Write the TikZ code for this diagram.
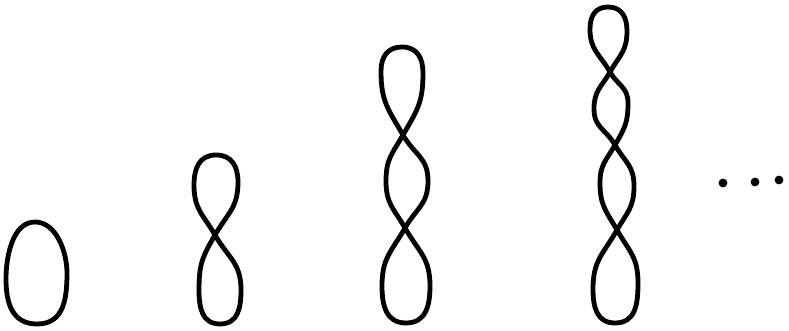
\documentclass[tikz,border=0pt]{standalone}
\begin{document}
\begin{tikzpicture}[x=1pt,y=1pt,
  curve/.style={line width=4.8pt,line join=round,line cap=round},
  full/.style={looseness=1.15},
  dot/.style={fill=black}]
\useasboundingbox (0,0) rectangle (789,331);
% single loop (oval)
\draw[curve] (35,109) to[out=0,in=90,looseness=0.9] (67,58) to[out=-90,in=0,looseness=1.15] (37,7)
  to[out=180,in=-90,looseness=1.15] (6,52) to[out=90,in=180,looseness=0.9] (35,109);
% figure eight
\coordinate (e1) at (215,96);
\draw[curve,full] (e1) to[out=120,in=-90] (194,146) to[out=90,in=180] (216,176)
  to[out=0,in=90] (238,149) to[out=-90,in=60] (e1);
\draw[curve,full] (e1) to[out=-60,in=90] (241,41) to[out=-90,in=0] (220,7)
  to[out=180,in=-90] (199,41) to[out=90,in=-120] (e1);
% three loops
\coordinate (t1) at (403,196);
\coordinate (t2) at (405,103);
\draw[curve,full] (t1) to[out=120,in=-90] (381,260) to[out=90,in=180] (402,284)
  to[out=0,in=90] (423,258) to[out=-90,in=60] (t1);
\draw[curve,full] (t1) to[out=-60,in=90] (428,150) to[out=-90,in=60] (t2);
\draw[curve,full] (t1) to[out=-120,in=90] (386,150) to[out=-90,in=120] (t2);
\draw[curve,full] (t2) to[out=-60,in=90] (430,45) to[out=-90,in=0] (406,8)
  to[out=180,in=-90] (382,45) to[out=90,in=-120] (t2);
% four loops
\coordinate (f1) at (610,259);
\coordinate (f2) at (615,186);
\coordinate (f3) at (617,101);
\draw[curve,full] (f1) to[out=120,in=-90] (590,302) to[out=90,in=180] (608,324)
  to[out=0,in=90] (627,300) to[out=-90,in=60] (f1);
\draw[curve,full] (f1) to[out=-60,in=90] (628,228) to[out=-90,in=60] (f2);
\draw[curve,full] (f1) to[out=-120,in=90] (594,222) to[out=-90,in=120] (f2);
\draw[curve,full] (f2) to[out=-60,in=90] (634,145) to[out=-90,in=60] (f3);
\draw[curve,full] (f2) to[out=-120,in=90] (600,148) to[out=-90,in=120] (f3);
\draw[curve,full] (f3) to[out=-60,in=90] (638,48) to[out=-90,in=0] (615,8)
  to[out=180,in=-90] (593,42) to[out=90,in=-120] (f3);
% ellipsis dots
\fill[dot] (723,148) circle (4.4);
\fill[dot] (755,149) circle (4.4);
\fill[dot] (779,151) circle (4.4);
\end{tikzpicture}
\end{document}
